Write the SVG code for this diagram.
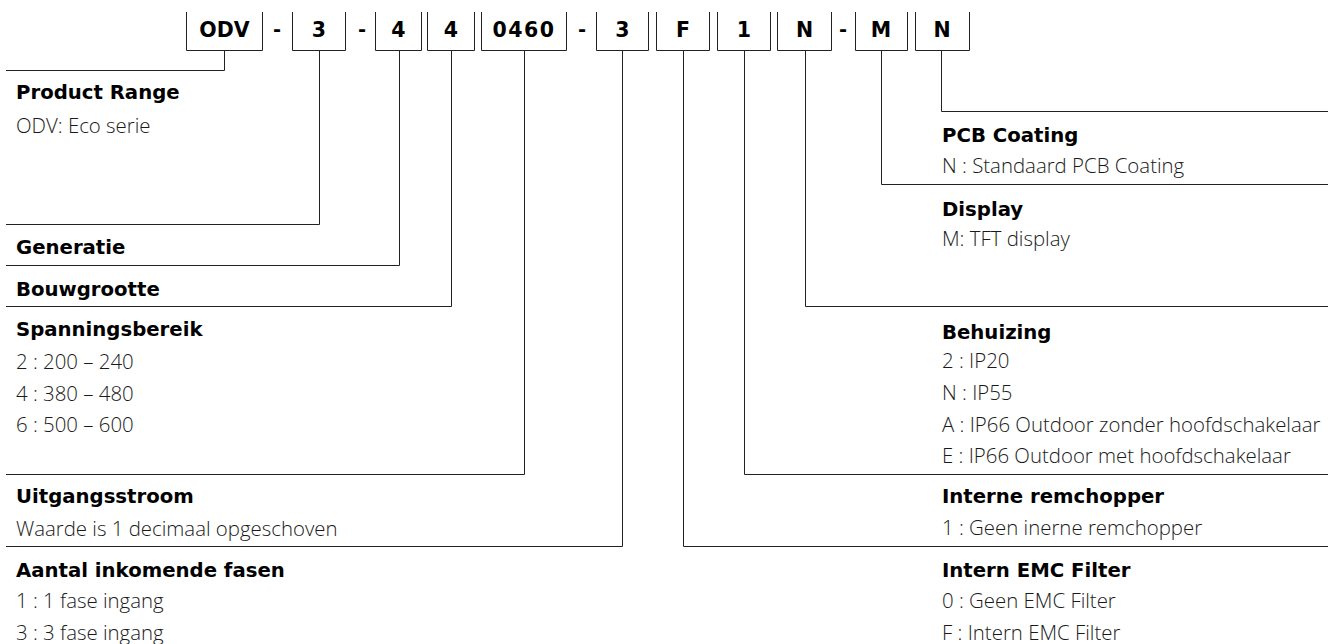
<svg xmlns="http://www.w3.org/2000/svg" width="1335" height="644" viewBox="0 0 1335 644">
  <style>
    .box { fill: none; stroke: #222; stroke-width: 1; }
    .wire { fill: none; stroke: #222; stroke-width: 1; }
    .code { font-family: "DejaVu Sans", "Liberation Sans", sans-serif; font-weight: bold; font-size: 20.5px; fill: #000; text-anchor: middle; }
    .sep { font-family: "DejaVu Sans", "Liberation Sans", sans-serif; font-weight: bold; font-size: 19.5px; fill: #000; text-anchor: middle; }
    .title { font-family: "DejaVu Sans", "Liberation Sans", sans-serif; font-weight: bold; font-size: 19.7px; fill: #000; }
    .item { font-family: "Open Sans", "Liberation Sans", sans-serif; font-weight: 300; font-size: 20.4px; fill: #1a1a1a; }
  </style>
  <rect width="1335" height="644" fill="#fff"/>

  <!-- code segments (open-top boxes) -->
  <g id="seg-odv"><path class="box" d="M186.5 12 V50.5 H262.5 V12"/><text class="code" x="224.5" y="37">ODV</text></g>
  <text class="sep" x="277" y="36">-</text>
  <g id="seg-gen"><path class="box" d="M292.5 12 V50.5 H345.5 V12"/><text class="code" x="319" y="37">3</text></g>
  <text class="sep" x="362" y="36">-</text>
  <g id="seg-size"><path class="box" d="M375.5 12 V50.5 H421.5 V12"/><text class="code" x="398.5" y="37">4</text></g>
  <g id="seg-volt"><path class="box" d="M427.5 12 V50.5 H474.5 V12"/><text class="code" x="451" y="37">4</text></g>
  <g id="seg-curr"><path class="box" d="M481.5 12 V50.5 H566.5 V12"/><text class="code" x="524" y="37" letter-spacing="1.5">0460</text></g>
  <text class="sep" x="582" y="36">-</text>
  <g id="seg-phase"><path class="box" d="M596.5 12 V50.5 H648.5 V12"/><text class="code" x="622.5" y="37">3</text></g>
  <g id="seg-emc"><path class="box" d="M656.5 12 V50.5 H709.5 V12"/><text class="code" x="683" y="37">F</text></g>
  <g id="seg-brake"><path class="box" d="M717.5 12 V50.5 H770.5 V12"/><text class="code" x="744" y="37">1</text></g>
  <g id="seg-ip"><path class="box" d="M777.5 12 V50.5 H831.5 V12"/><text class="code" x="804.5" y="37">N</text></g>
  <text class="sep" x="843" y="36">-</text>
  <g id="seg-disp"><path class="box" d="M855.5 12 V50.5 H907.5 V12"/><text class="code" x="881" y="37">M</text></g>
  <g id="seg-pcb"><path class="box" d="M915.5 12 V50.5 H969.5 V12"/><text class="code" x="942" y="37">N</text></g>

  <!-- leader lines from each segment to its description -->
  <g id="connectors">
    <path class="wire" d="M224.5 50 V70.5 H6"/>
    <path class="wire" d="M319.5 50 V224.5 H6"/>
    <path class="wire" d="M399.5 50 V265.5 H6"/>
    <path class="wire" d="M451.5 50 V306.5 H6"/>
    <path class="wire" d="M524.5 50 V474.5 H6"/>
    <path class="wire" d="M622.5 50 V546.5 H6"/>
    <path class="wire" d="M683.5 50 V546.5 H1328"/>
    <path class="wire" d="M744.5 50 V474.5 H1328"/>
    <path class="wire" d="M805.5 50 V306.5 H1328"/>
    <path class="wire" d="M881.5 50 V184.5 H1328"/>
    <path class="wire" d="M941.5 50 V111.5 H1328"/>
  </g>

  <!-- descriptions, left column -->
  <g id="desc-odv">
    <text class="title" x="16" y="99">Product Range</text>
    <text class="item" x="16" y="133">ODV: Eco serie</text>
  </g>
  <g id="desc-gen"><text class="title" x="16" y="254">Generatie</text></g>
  <g id="desc-size"><text class="title" x="16" y="295.5">Bouwgrootte</text></g>
  <g id="desc-volt">
    <text class="title" x="16" y="336">Spanningsbereik</text>
    <text class="item" x="16" y="369">2 : 200 – 240</text>
    <text class="item" x="16" y="400.5">4 : 380 – 480</text>
    <text class="item" x="16" y="432">6 : 500 – 600</text>
  </g>
  <g id="desc-curr">
    <text class="title" x="16" y="503">Uitgangsstroom</text>
    <text class="item" x="16" y="535.5">Waarde is 1 decimaal opgeschoven</text>
  </g>
  <g id="desc-phase">
    <text class="title" x="16" y="576.5">Aantal inkomende fasen</text>
    <text class="item" x="16" y="608">1 : 1 fase ingang</text>
    <text class="item" x="16" y="640">3 : 3 fase ingang</text>
  </g>

  <!-- descriptions, right column -->
  <g id="desc-pcb">
    <text class="title" x="942" y="142">PCB Coating</text>
    <text class="item" x="942" y="172.5">N : Standaard PCB Coating</text>
  </g>
  <g id="desc-disp">
    <text class="title" x="942" y="216">Display</text>
    <text class="item" x="942" y="246">M: TFT display</text>
  </g>
  <g id="desc-ip">
    <text class="title" x="942" y="339">Behuizing</text>
    <text class="item" x="942" y="368">2 : IP20</text>
    <text class="item" x="942" y="400">N : IP55</text>
    <text class="item" x="942" y="431.5">A : IP66 Outdoor zonder hoofdschakelaar</text>
    <text class="item" x="942" y="463">E : IP66 Outdoor met hoofdschakelaar</text>
  </g>
  <g id="desc-brake">
    <text class="title" x="942" y="503">Interne remchopper</text>
    <text class="item" x="942" y="535">1 : Geen inerne remchopper</text>
  </g>
  <g id="desc-emc">
    <text class="title" x="942" y="576.5">Intern EMC Filter</text>
    <text class="item" x="942" y="608">0 : Geen EMC Filter</text>
    <text class="item" x="942" y="640">F : Intern EMC Filter</text>
  </g>
</svg>
